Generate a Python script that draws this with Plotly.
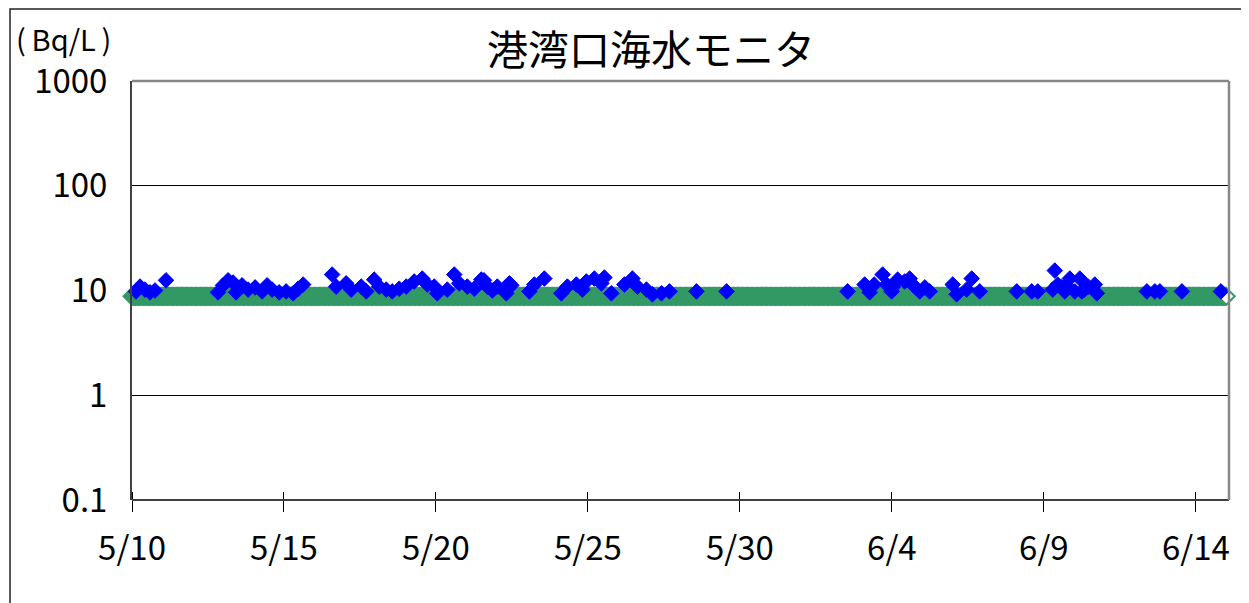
import pandas as pd
import plotly.graph_objects as go

# ---------------- data ----------------
title_text = "港湾口海水モニタ"
unit_text = "(\u2009Bq/L\u2009)"

# detection-limit series (green): one limit value per day, sampled hourly
green_start = "2011-05-10 00:00"
green_end = "2011-06-15 00:00"
green_daily_limit = [8.8, 8.8, 8.8, 8.8, 8.8, 8.8, 8.8, 8.8, 8.8, 8.8,
                     8.8, 8.8, 8.8, 8.8, 8.8, 8.8, 8.8, 8.8, 8.8, 8.8,
                     8.8, 8.8, 8.8, 8.8, 8.8, 8.8, 8.8, 8.8, 8.8, 8.8,
                     8.8, 8.8, 8.8, 8.8, 8.8, 8.8, 8.8]

# measured values (blue)
blue_times = [
    "2011-05-10 03:10", "2011-05-10 06:20", "2011-05-10 10:16", "2011-05-10 14:13",
    "2011-05-10 18:10", "2011-05-11 02:52",
    "2011-05-12 19:58", "2011-05-12 23:54", "2011-05-13 03:52", "2011-05-13 07:49",
    "2011-05-13 10:11", "2011-05-13 14:55", "2011-05-13 19:40", "2011-05-14 01:12",
    "2011-05-14 06:44", "2011-05-14 10:41", "2011-05-14 14:38", "2011-05-14 20:10",
    "2011-05-15 01:42", "2011-05-15 07:14", "2011-05-15 11:11", "2011-05-15 15:08",
    "2011-05-16 14:02", "2011-05-16 17:12", "2011-05-17 01:06", "2011-05-17 05:04",
    "2011-05-17 12:58", "2011-05-17 16:55", "2011-05-17 23:14", "2011-05-18 03:11",
    "2011-05-18 08:43", "2011-05-18 13:27", "2011-05-18 19:00", "2011-05-19 00:32",
    "2011-05-19 06:50", "2011-05-19 13:10", "2011-05-19 17:07", "2011-05-19 22:39",
    "2011-05-20 01:02", "2011-05-20 08:56", "2011-05-20 14:27", "2011-05-20 18:24",
    "2011-05-21 00:44", "2011-05-21 06:16", "2011-05-21 11:48", "2011-05-21 13:55",
    "2011-05-21 16:32", "2011-05-21 20:30", "2011-05-22 00:26", "2011-05-22 07:33",
    "2011-05-22 09:55", "2011-05-22 11:31",
    "2011-05-23 01:44", "2011-05-23 05:41", "2011-05-23 13:35", "2011-05-24 03:01",
    "2011-05-24 07:45", "2011-05-24 14:52", "2011-05-24 19:37", "2011-05-24 22:46",
    "2011-05-25 05:05", "2011-05-25 10:37", "2011-05-25 13:00", "2011-05-25 18:31",
    "2011-05-26 04:48", "2011-05-26 11:08", "2011-05-26 15:04", "2011-05-26 22:12",
    "2011-05-27 02:56", "2011-05-27 10:03", "2011-05-27 16:22", "2011-05-28 13:42",
    "2011-05-29 13:25",
    "2011-06-02 13:02", "2011-06-03 02:28", "2011-06-03 06:26", "2011-06-03 10:00",
    "2011-06-03 16:42", "2011-06-03 19:51", "2011-06-03 23:48", "2011-06-04 01:00",
    "2011-06-04 04:32", "2011-06-04 10:05", "2011-06-04 14:02", "2011-06-04 17:58",
    "2011-06-04 21:56", "2011-06-05 02:00", "2011-06-05 05:50",
    "2011-06-06 00:00", "2011-06-06 03:10", "2011-06-06 11:04", "2011-06-06 15:01",
    "2011-06-06 21:20",
    "2011-06-08 02:36", "2011-06-08 14:26", "2011-06-08 19:10", "2011-06-09 07:02",
    "2011-06-09 08:37", "2011-06-09 10:59", "2011-06-09 14:00", "2011-06-09 16:31",
    "2011-06-09 18:00", "2011-06-09 20:28", "2011-06-10 00:26", "2011-06-10 04:22",
    "2011-06-10 05:57", "2011-06-10 08:00", "2011-06-10 11:00", "2011-06-10 16:13",
    "2011-06-10 17:48",
    "2011-06-12 09:19", "2011-06-12 15:38", "2011-06-12 19:35", "2011-06-13 12:59",
    "2011-06-14 19:48",
]
blue_values = [
    9.8, 10.9, 10.2, 9.6,
    10.0, 12.5,
    9.6, 11.2, 12.5, 11.9,
    9.6, 11.2, 10.2, 10.7,
    9.8, 11.2, 10.2, 9.6,
    9.8, 9.4, 10.4, 11.4,
    14.2, 10.9, 11.7, 10.2,
    10.9, 9.8, 12.7, 10.9,
    10.2, 9.8, 10.4, 10.9,
    12.2, 13.0, 11.4, 10.9,
    9.4, 10.2, 14.2, 11.7,
    10.9, 10.4, 12.7, 12.5,
    10.9, 10.0, 10.9, 9.4,
    11.7, 11.2,
    9.8, 11.4, 13.0, 9.4,
    10.9, 11.4, 10.2, 12.2,
    13.0, 11.7, 13.3, 9.4,
    11.4, 13.0, 10.9, 10.2,
    9.2, 9.4, 9.8, 9.8,
    9.8,
    9.8, 11.4, 9.6, 11.4,
    14.2, 11.4, 9.8, 10.9,
    12.7, 12.2, 13.0, 10.9,
    9.8, 10.7, 9.8,
    11.4, 9.2, 10.2, 13.0,
    9.8,
    9.8, 9.8, 9.8, 10.2,
    15.5, 11.4, 10.7, 9.8,
    11.2, 13.0, 9.8, 13.0,
    9.8, 10.2, 10.9, 11.4,
    9.4,
    9.8, 9.8, 9.8, 9.8,
    9.8,
]

x_tick_start = "2011-05-10"
x_range = ["2011-05-10 00:00", "2011-06-15 02:10"]
y_tickvals = [0.1, 1, 10, 100, 1000]
y_ticktext = ["0.1", "1", "10", "100", "1000"]

# ---------------- build ----------------
FONT = "Noto Sans CJK JP"
GREEN = "#339966"
BLUE = "#0000FF"

g_times = pd.date_range(green_start, green_end, freq="h")
day0 = pd.Timestamp(green_start).normalize()
g_vals = [green_daily_limit[(t.normalize() - day0).days] for t in g_times]
g_fill = [GREEN] * (len(g_times) - 1) + ["white"]

fig = go.Figure()
fig.add_trace(go.Scatter(
    x=g_times, y=g_vals, mode="markers", cliponaxis=False,
    marker=dict(symbol="diamond", size=13, color=g_fill,
                line=dict(color=GREEN, width=2)),
    showlegend=False, hoverinfo="skip"))
fig.add_trace(go.Scatter(
    x=pd.to_datetime(blue_times), y=blue_values, mode="markers", cliponaxis=False,
    marker=dict(symbol="diamond", size=12, color=BLUE,
                line=dict(color=BLUE, width=1)),
    showlegend=False))

DT = 5 * 24 * 3600 * 1000
PLOT_H = 419  # plot-area height in px (for the crossing tick offset)
TICK_UP = 9

fig.update_layout(
    width=1241, height=595,
    margin=dict(l=124, r=20, t=73, b=103),
    paper_bgcolor="white", plot_bgcolor="white",
    font=dict(family=FONT, color="black", size=33),
    xaxis=dict(type="date", range=x_range, tick0=x_tick_start, dtick=DT,
               tickformat="%-m/%-d", ticks="outside", ticklen=20, tickwidth=1,
               tickcolor="black", showgrid=False, zeroline=False,
               showline=False, anchor="free", position=TICK_UP / PLOT_H,
               ticklabelstandoff=8, tickfont=dict(size=33), automargin=False),
    yaxis=dict(type="log", range=[-1, 3], tickvals=y_tickvals, ticktext=y_ticktext,
               ticks="", showgrid=True, gridcolor="black", gridwidth=1,
               zeroline=False, showline=True, linecolor="#404040", linewidth=2,
               ticklabelstandoff=16, tickfont=dict(size=33), automargin=False),
    shapes=[
        dict(type="line", xref="paper", yref="paper", x0=0, x1=1, y0=0, y1=0,
             line=dict(color="#404040", width=2)),
        dict(type="line", xref="paper", yref="paper", x0=0, x1=1, y0=1, y1=1,
             line=dict(color="#888888", width=2.5)),
        dict(type="line", xref="paper", yref="paper", x0=1, x1=1, y0=0, y1=1,
             line=dict(color="#888888", width=2.5)),
        dict(type="rect", xref="paper", yref="paper", x0=-0.1112, x1=1.1,
             y0=-0.4, y1=1.1718, line=dict(color="#222222", width=1.5),
             layer="below"),
    ],
    annotations=[
        dict(text=title_text, xref="paper", yref="paper", x=0.473, y=1.081,
             xanchor="center", yanchor="middle", showarrow=False,
             font=dict(size=41, family=FONT)),
        dict(text=unit_text, xref="paper", yref="paper", x=-0.108, y=1.1026,
             xanchor="left", yanchor="middle", showarrow=False,
             font=dict(size=29, family=FONT)),
    ],
)

fig.write_html("out.html")
